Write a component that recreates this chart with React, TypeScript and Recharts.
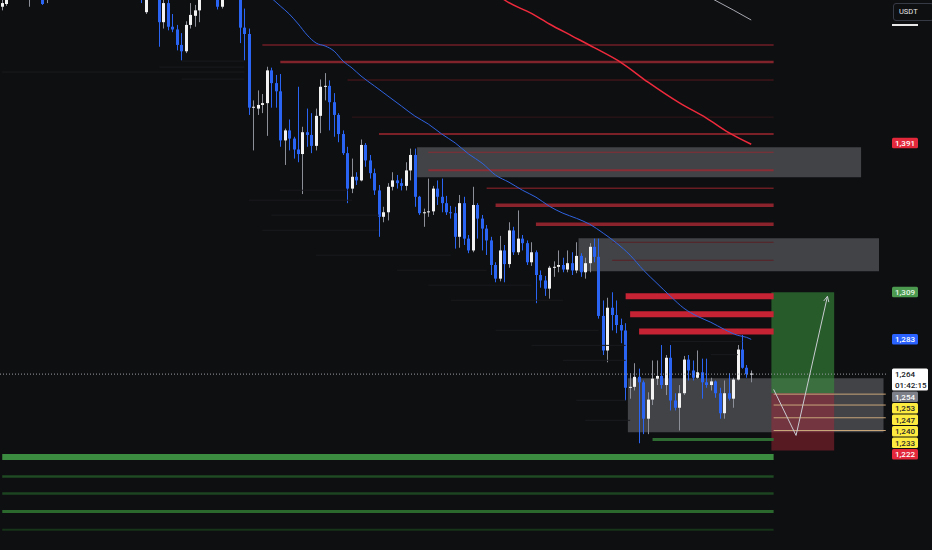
import React from 'react';
import {
  ComposedChart,
  Bar,
  Line,
  XAxis,
  YAxis,
  ReferenceLine,
  ReferenceArea
} from 'recharts';

// candles, oldest first: [open, high, low, close] (USDT)
const CANDLES: number[][] = [
  [1466, 1471, 1464, 1468], [1467.5, 1475, 1466.5, 1472.5], [1474, 1482, 1471, 1478], [1478, 1484, 1474, 1480],
  [1480, 1486, 1476, 1477], [1477, 1481, 1471, 1474], [1472.5, 1484, 1466, 1478], [1478, 1485, 1475, 1482],
  [1482, 1488, 1477, 1479], [1478, 1481, 1467, 1467.5], [1472.5, 1481, 1468, 1475], [1475, 1482, 1473, 1480],
  [1480, 1487, 1477, 1485], [1485, 1490, 1480, 1483], [1483, 1492, 1481, 1490], [1490, 1496, 1486, 1488],
  [1488, 1494, 1484, 1492], [1492, 1499, 1489, 1496], [1496, 1502, 1490, 1493], [1493, 1498, 1487, 1490],
  [1490, 1495, 1484, 1486], [1486, 1492, 1481, 1489], [1489, 1496, 1486, 1494], [1494, 1500, 1490, 1492],
  [1492, 1497, 1486, 1488], [1488, 1493, 1482, 1485], [1485, 1491, 1480, 1487], [1487, 1492, 1481, 1483],
  [1483, 1488, 1477, 1480], [1480, 1486, 1476, 1484], [1484, 1488, 1478, 1480], [1480, 1485, 1468, 1474],
  [1463, 1481, 1462, 1472.5], [1472.5, 1480, 1471, 1476], [1476, 1482, 1472, 1474], [1474, 1478, 1444, 1457.5],
  [1457.5, 1472.5, 1454, 1468], [1468, 1471, 1453, 1455], [1455, 1462, 1452, 1453.5], [1453.5, 1456, 1442, 1445],
  [1445, 1451.5, 1436.5, 1441.5], [1441.5, 1458, 1440.5, 1456], [1456, 1468, 1454, 1461.5], [1461, 1467, 1455, 1464],
  [1464, 1475, 1457.5, 1472.5], [1472.5, 1480, 1470.5, 1477], [1477, 1484, 1473, 1481], [1481, 1486, 1474, 1476],
  [1476, 1478, 1464.5, 1466], [1466, 1478, 1465, 1475], [1475, 1483, 1472, 1480], [1480, 1486, 1476, 1478],
  [1478, 1482, 1472, 1475], [1475, 1478, 1446, 1454.5], [1454.5, 1465, 1436.5, 1451], [1451, 1454, 1406.5, 1410.5],
  [1410.5, 1414.5, 1387, 1411], [1410, 1420, 1406.5, 1412], [1412, 1418, 1407.5, 1413], [1413, 1433, 1395, 1431],
  [1431, 1432.5, 1410.5, 1424], [1424, 1428.5, 1410.5, 1419.5], [1419.5, 1429, 1389, 1392.5], [1392.5, 1399, 1379, 1398],
  [1398, 1404, 1387, 1393.5], [1393.5, 1394.5, 1382.5, 1387.5], [1387.5, 1422, 1380.5, 1385], [1385, 1400, 1363, 1397],
  [1397, 1410, 1389, 1395.5], [1395.5, 1407.5, 1385.5, 1389.5], [1389.5, 1410, 1387, 1406], [1406, 1426, 1396.5, 1422],
  [1422, 1429.5, 1414.5, 1422.5], [1422.5, 1425.5, 1398, 1413.5], [1413.5, 1418.5, 1394.5, 1406.5], [1406.5, 1407.5, 1391.5, 1396],
  [1396, 1398, 1384.5, 1385.5], [1385.5, 1389, 1358, 1366], [1366, 1382.5, 1363.5, 1372.5], [1372.5, 1375, 1368, 1370.5],
  [1370.5, 1393, 1370, 1390], [1390, 1391, 1378, 1381.5], [1381.5, 1384.5, 1371.5, 1374.5], [1374.5, 1377, 1362.5, 1365],
  [1365, 1368, 1339.5, 1350.5], [1350.5, 1356, 1347.5, 1353], [1353, 1369, 1348.5, 1367], [1367, 1375, 1365, 1370.5],
  [1370.5, 1373.5, 1366, 1369], [1369, 1371.5, 1365, 1367.5], [1367.5, 1380.5, 1365, 1376], [1376, 1388, 1370.5, 1384.5],
  [1384.5, 1388, 1356, 1361.5], [1361.5, 1362, 1351.5, 1352.5], [1352.5, 1355, 1345, 1353], [1353, 1371.5, 1350.5, 1353.5],
  [1353.5, 1367.5, 1351.5, 1366], [1366, 1370.5, 1357, 1361.5], [1361.5, 1371.5, 1353, 1358], [1358, 1362, 1351.5, 1353],
  [1353, 1356.5, 1349.5, 1352.5], [1352.5, 1356, 1333, 1339.5], [1339.5, 1362.5, 1333.5, 1358], [1358, 1361.5, 1335, 1338.5],
  [1338.5, 1340.5, 1330.5, 1332], [1332, 1367, 1331, 1357], [1357, 1358, 1338.5, 1349.5], [1349.5, 1351.5, 1332, 1344],
  [1344, 1346, 1329.5, 1337.5], [1337.5, 1339.5, 1318.5, 1324], [1324, 1325.5, 1314.5, 1316.5], [1316.5, 1340, 1315, 1332],
  [1332, 1335, 1314.5, 1324.5], [1324.5, 1347.5, 1322.5, 1343], [1343, 1345, 1329.5, 1331], [1331, 1354, 1329.5, 1338.5],
  [1338.5, 1340.5, 1332, 1336], [1336, 1337.5, 1324, 1325.5], [1325.5, 1336.5, 1323.5, 1331], [1331, 1332, 1303, 1318.5],
  [1318.5, 1321, 1311.5, 1315.5], [1315.5, 1318, 1307, 1311], [1311, 1323.5, 1305.5, 1322.5], [1322.5, 1326, 1317.5, 1323],
  [1323, 1332, 1320, 1324], [1324, 1328, 1320, 1321.5], [1321.5, 1332, 1320, 1325], [1325, 1331, 1318.5, 1321],
  [1321, 1336.5, 1319.5, 1329], [1329, 1330.5, 1317.5, 1320], [1320, 1328, 1316.5, 1325], [1325, 1336, 1320, 1334],
  [1334, 1338.5, 1325.5, 1328.5], [1328.5, 1338.5, 1294.5, 1296], [1296, 1304.5, 1274.5, 1277], [1277, 1306, 1270.5, 1300.5],
  [1300.5, 1309, 1288, 1296.5], [1296.5, 1304.5, 1286.5, 1291], [1291, 1294.5, 1281, 1288], [1288, 1292, 1249.5, 1256.5],
  [1256.5, 1264.5, 1250.5, 1257], [1257, 1270, 1255, 1262.5], [1262.5, 1267, 1226, 1259.5], [1259.5, 1260.5, 1231, 1239.5],
  [1239.5, 1254, 1231, 1250], [1250, 1271.5, 1247, 1261.5], [1261.5, 1271.5, 1258, 1263], [1263, 1280, 1256, 1258],
  [1258, 1274.5, 1252.5, 1273], [1273, 1280, 1244, 1249.5], [1249.5, 1253.5, 1244, 1245.5], [1245.5, 1258, 1233, 1253.5],
  [1253.5, 1274, 1252.5, 1272], [1272, 1274.5, 1260.5, 1266], [1266, 1271.5, 1260.5, 1262], [1262, 1277, 1261.5, 1265],
  [1265, 1272.5, 1250.5, 1259.5], [1259.5, 1272.5, 1256.5, 1258], [1258, 1262, 1255, 1260], [1260, 1260.5, 1251, 1253.5],
  [1253.5, 1256.5, 1239.5, 1242.5], [1242.5, 1260.5, 1239.5, 1253.5], [1253.5, 1264.5, 1249.5, 1250.5], [1250.5, 1262, 1245.5, 1261],
  [1261, 1280, 1260.5, 1277.5], [1277.5, 1285.5, 1267, 1267.5], [1267.5, 1269, 1262, 1264], [1264, 1266, 1259.5, 1264.3]
];

// moving averages, read at [candle index, price]
const BLUE_MA: number[][] = [
  [60, 1470.8], [62, 1466.4], [64, 1462], [66, 1456.5], [68, 1450.4], [70, 1446], [72, 1444.4], [74, 1441.6],
  [76, 1436.1], [78, 1432.3], [80, 1427.9], [83, 1422.4], [86, 1416.9], [89, 1411.4], [92, 1405.9], [95, 1401.5],
  [98, 1396], [101, 1391.1], [104, 1385], [107, 1380], [110, 1373.4], [113, 1369.5], [116, 1365.1], [119, 1361.3],
  [122, 1356.3], [125, 1352.5], [128, 1349.7], [131, 1346.4], [134, 1341.5], [137, 1336], [140, 1329.4], [143, 1321.1],
  [146, 1313.9], [149, 1306.8], [152, 1300.2], [155, 1295.8], [158, 1292.5], [161, 1288.6], [164, 1285.3], [166, 1284.2],
  [167, 1283.1]
];
const RED_MA: number[][] = [
  [111, 1471.5], [112, 1469.7], [118, 1462.3], [122, 1456.5], [127, 1450], [132, 1443.5], [138, 1435.3],
  [144, 1424.5], [151, 1413.1], [157, 1404.8], [162, 1396.8], [167, 1390.4]
];
const GRAY_MA: number[][] = [[158, 1470.8], [163, 1464.2], [167, 1458.7]];

// projected path drawn on the position tool
const PATH: number[][] = [[172, 1255.6], [177, 1230.3], [184, 1306.8]];

// horizontal levels: price and first candle index, they all end at LEVEL_END
const RED_LEVELS = [1445, 1435.6, 1425.7, 1405.3, 1396, 1386, 1376.1, 1366.2, 1356.9, 1346.4, 1336.5, 1326.6, 1306.8, 1296.9, 1287.5];
const RED_FROM = [58, 62, 77, 78, 84, 95, 95, 108, 110, 119, 136, 136, 139, 140, 142];
const GREEN_LEVELS = [1228.1, 1218.4, 1207.7, 1198.4, 1188.4, 1178.5];
const GREEN_FROM = [145, 0, 0, 0, 0, 0];
const ORANGE_LEVELS = [1253, 1247, 1240, 1233];
const LEVEL_END = 172;

// zones: [top, bottom, from, to]
const ZONES: number[][] = [
  [1388.8, 1372.3, 93, 191],
  [1338.7, 1320.5, 129, 195],
  [1261.7, 1232, 140, 196]
];

// long position: target, entry, stop, from, to
const TARGET = 1309;
const ENTRY = 1253.5;
const STOP = 1222;
const POS_FROM = 172;
const POS_TO = 185;

const LAST_PRICE = 1264;
const COUNTDOWN = '01:42:15';

// faint volume streaks: [price, from, to]
const STREAKS: number[][] = [
  [1430.1, 0, 54], [1436.1, 40, 54], [1432.8, 35, 54], [1426.2, 40, 54],
  [1365.1, 62, 77], [1359.6, 55, 78], [1351.4, 60, 84], [1343.1, 58, 84],
  [1329.4, 70, 100], [1321.1, 88, 108], [1312.9, 95, 118], [1304.6, 100, 125],
  [1288.1, 110, 133], [1279.8, 118, 139], [1271.6, 125, 139], [1249.6, 128, 139],
  [1238.6, 130, 140], [1281.9, 149, 165], [1274.7, 158, 164]
];

const TAGS = [
  { price: 1391, text: '1,391', bg: '#e3283b', fg: '#ffffff' },
  { price: 1309, text: '1,309', bg: '#4c9a50', fg: '#eaf5ea' },
  { price: 1283, text: '1,283', bg: '#2962ff', fg: '#ffffff' },
  { price: LAST_PRICE, text: '1,264', sub: COUNTDOWN, bg: '#ffffff', fg: '#131722' },
  { price: 1254, text: '1,254', bg: '#7d8089', fg: '#ffffff' },
  { price: 1253, text: '1,253', bg: '#fdeb3f', fg: '#2a2a2a' },
  { price: 1247, text: '1,247', bg: '#fdeb3f', fg: '#2a2a2a' },
  { price: 1240, text: '1,240', bg: '#fdeb3f', fg: '#2a2a2a' },
  { price: 1233, text: '1,233', bg: '#fdeb3f', fg: '#2a2a2a' },
  { price: 1222, text: '1,222', bg: '#e3283b', fg: '#ffffff' }
];

const W = 932;
const H = 550;
const RIGHT = 44;
const SLOTS = 198;
const Y_MIN = 1167.3;
const Y_MAX = 1469.7;

const BG = '#0e0f11';
const BLUE = '#2a64f2';
const WHITE = '#f2f2f2';
const WICK_UP = '#8c8f97';

const RED_STYLE = [
  { w: 1.5, c: '#6e1e24' }, { w: 2.5, c: '#80232a' }, { w: 1, c: '#58191e' }, { w: 1, c: '#34161a' },
  { w: 2, c: '#7a2026' }, { w: 1, c: '#8a2d35' }, { w: 2, c: '#8a2d35' }, { w: 1.5, c: '#6a1d22' },
  { w: 3.5, c: '#8a232b' }, { w: 3.5, c: '#8a232b' }, { w: 1, c: '#5a2026' }, { w: 1, c: '#5a2026' },
  { w: 6, c: '#c62334' }, { w: 6, c: '#c62334' }, { w: 6, c: '#c62334' }
];
const GREEN_STYLE = [
  { w: 3, c: '#2e6b33' }, { w: 6, c: '#3b8c40' }, { w: 2.5, c: '#1f4a23' },
  { w: 2.5, c: '#1d4421' }, { w: 3, c: '#2a682e' }, { w: 2, c: '#173519' }
];

const yOf = (p: number) => ((Y_MAX - p) / (Y_MAX - Y_MIN)) * H;
const BAND = (W - RIGHT) / SLOTS;

// stack the price tags on the scale the way the terminal does
const TAG_H = 10.5;
const stackedTags = (() => {
  let prevBottom = -Infinity;
  return [...TAGS]
    .sort((a, b) => b.price - a.price)
    .map((t) => {
      const h = t.sub ? 22 : TAG_H;
      const top = Math.max(yOf(t.price) - 5.5, prevBottom + 1);
      prevBottom = top + h;
      return { ...t, top, h };
    });
})();

const data = Array.from({ length: SLOTS }, (_, i) => {
  const k = CANDLES[i];
  const row: any = { i, range: null, blue: null, red: null, gray: null, path: null };
  if (k) {
    row.o = k[0];
    row.h = k[1];
    row.l = k[2];
    row.c = k[3];
    row.range = [k[2], k[1]];
  }
  return row;
});
BLUE_MA.forEach(([i, v]) => (data[i].blue = v));
RED_MA.forEach(([i, v]) => (data[i].red = v));
GRAY_MA.forEach(([i, v]) => (data[i].gray = v));
PATH.forEach(([i, v]) => (data[i].path = v));

const Candle = (props: any) => {
  const { x, y, width, height, payload } = props;
  if (!payload || payload.o == null || x == null) return null;
  const { o, h, l, c } = payload;
  const top = Math.min(y, y + height);
  const span = Math.abs(height);
  const k = h - l === 0 ? 0 : span / (h - l);
  const yO = top + (h - o) * k;
  const yC = top + (h - c) * k;
  const up = c >= o;
  const rx = Math.round(x);
  const cx = rx + width / 2;
  return (
    <g>
      <line x1={cx} x2={cx} y1={top} y2={top + span} stroke={up ? WICK_UP : BLUE} strokeWidth={1} />
      <rect
        x={rx}
        y={Math.min(yO, yC)}
        width={width}
        height={Math.max(1, Math.abs(yC - yO))}
        fill={up ? WHITE : BLUE}
      />
    </g>
  );
};

const PriceTag = (props: any) => {
  const { viewBox, tag } = props;
  if (!viewBox) return null;
  const x = viewBox.x + viewBox.width + 4;
  const top = viewBox.y + (tag.top - yOf(tag.price));
  const w = tag.sub ? 36 : 26;
  return (
    <g>
      <rect x={x} y={top} width={w} height={tag.h} rx={1.5} fill={tag.bg} />
      <text x={x + 3} y={top + 8} fill={tag.fg} fontSize={8} fontFamily="Roboto, sans-serif" fontWeight={500}>
        {tag.text}
      </text>
      {tag.sub && (
        <text x={x + 3} y={top + 19} fill={tag.fg} fontSize={8} fontFamily="Roboto, sans-serif" fontWeight={500}>
          {tag.sub}
        </text>
      )}
    </g>
  );
};

const ArrowDot = (props: any) => {
  const { cx, cy, index } = props;
  const last = PATH[PATH.length - 1];
  const prev = PATH[PATH.length - 2];
  if (index !== last[0] || cx == null || cy == null) return null;
  const dx = (last[0] - prev[0]) * BAND;
  const dy = yOf(last[1]) - yOf(prev[1]);
  const ang = Math.atan2(dy, dx);
  const len = 6;
  const a1 = ang + Math.PI - 0.45;
  const a2 = ang + Math.PI + 0.45;
  return (
    <g key={`arrow-${index}`}>
      <line x1={cx} y1={cy} x2={cx + len * Math.cos(a1)} y2={cy + len * Math.sin(a1)} stroke="#c9cbd1" strokeWidth={1} />
      <line x1={cx} y1={cy} x2={cx + len * Math.cos(a2)} y2={cy + len * Math.sin(a2)} stroke="#c9cbd1" strokeWidth={1} />
    </g>
  );
};

const App: React.FC = () => {
  return (
    <div style={{ position: 'relative', width: W, height: H, background: BG, overflow: 'hidden' }}>
      <style>{`body{margin:0;background:${BG};}`}</style>
      <ComposedChart
        width={W}
        height={H}
        data={data}
        margin={{ top: 0, right: RIGHT, left: 0, bottom: 0 }}
      >
        <XAxis dataKey="i" type="category" hide />
        <YAxis type="number" domain={[Y_MIN, Y_MAX]} allowDataOverflow hide />

        {STREAKS.map(([p, a, b], n) => (
          <ReferenceLine
            key={`s${n}`}
            segment={[{ x: a, y: p }, { x: b, y: p }]}
            stroke="#1a1b1e"
            strokeWidth={1}
          />
        ))}

        {RED_LEVELS.map((p, n) => (
          <ReferenceLine
            key={`r${n}`}
            segment={[{ x: RED_FROM[n], y: p }, { x: LEVEL_END, y: p }]}
            stroke={RED_STYLE[n].c}
            strokeWidth={RED_STYLE[n].w}
          />
        ))}
        {GREEN_LEVELS.map((p, n) => (
          <ReferenceLine
            key={`g${n}`}
            segment={[{ x: GREEN_FROM[n], y: p }, { x: LEVEL_END, y: p }]}
            stroke={GREEN_STYLE[n].c}
            strokeWidth={GREEN_STYLE[n].w}
          />
        ))}

        {ZONES.map(([y1, y2, a, b], n) => (
          <ReferenceArea
            key={`z${n}`}
            x1={a}
            x2={b}
            y1={y2}
            y2={y1}
            fill="#9598a1"
            fillOpacity={0.38}
            stroke="none"
          />
        ))}

        <ReferenceArea x1={POS_FROM} x2={POS_TO} y1={ENTRY} y2={TARGET} fill="#388e3c" fillOpacity={0.6} stroke="none" />
        <ReferenceArea x1={POS_FROM} x2={POS_TO} y1={STOP} y2={ENTRY} fill="#b2283a" fillOpacity={0.45} stroke="none" />

        {ORANGE_LEVELS.map((p, n) => (
          <ReferenceLine
            key={`o${n}`}
            segment={[{ x: LEVEL_END, y: p }, { x: SLOTS - 1, y: p }]}
            stroke="#c9a57a"
            strokeWidth={1}
          />
        ))}

        <ReferenceLine y={LAST_PRICE} stroke="#9a9da6" strokeDasharray="1 2" strokeWidth={1} />

        <Bar dataKey="range" barSize={3} shape={<Candle />} isAnimationActive={false} />

        <Line type="monotone" dataKey="blue" stroke="#2f63e0" strokeWidth={1} dot={false} connectNulls isAnimationActive={false} />
        <Line type="monotone" dataKey="red" stroke="#ee2a3c" strokeWidth={1.5} dot={false} connectNulls isAnimationActive={false} />
        <Line type="linear" dataKey="gray" stroke="#a6a8b0" strokeWidth={1} dot={false} connectNulls isAnimationActive={false} />
        <Line
          type="linear"
          dataKey="path"
          stroke="#c9cbd1"
          strokeWidth={1}
          dot={(p: any) => <ArrowDot key={`d${p.index}`} {...p} />}
          connectNulls
          isAnimationActive={false}
        />

        {stackedTags.map((t, n) => (
          <ReferenceLine
            key={`t${n}`}
            y={t.price}
            stroke="none"
            label={<PriceTag tag={t} />}
          />
        ))}
      </ComposedChart>

      <div
        style={{
          position: 'absolute',
          left: 893,
          top: 3,
          width: 34,
          height: 16,
          border: '1px solid #363a45',
          borderRadius: 3,
          color: '#e6e6e6',
          fontFamily: 'Roboto, sans-serif',
          fontSize: 7.5,
          lineHeight: '16px',
          paddingLeft: 5,
          boxSizing: 'content-box'
        }}
      >
        USDT
      </div>
      <div style={{ position: 'absolute', left: 892, top: 24, width: 26, height: 2, background: '#e8e8e8' }} />
    </div>
  );
};

export default App;
